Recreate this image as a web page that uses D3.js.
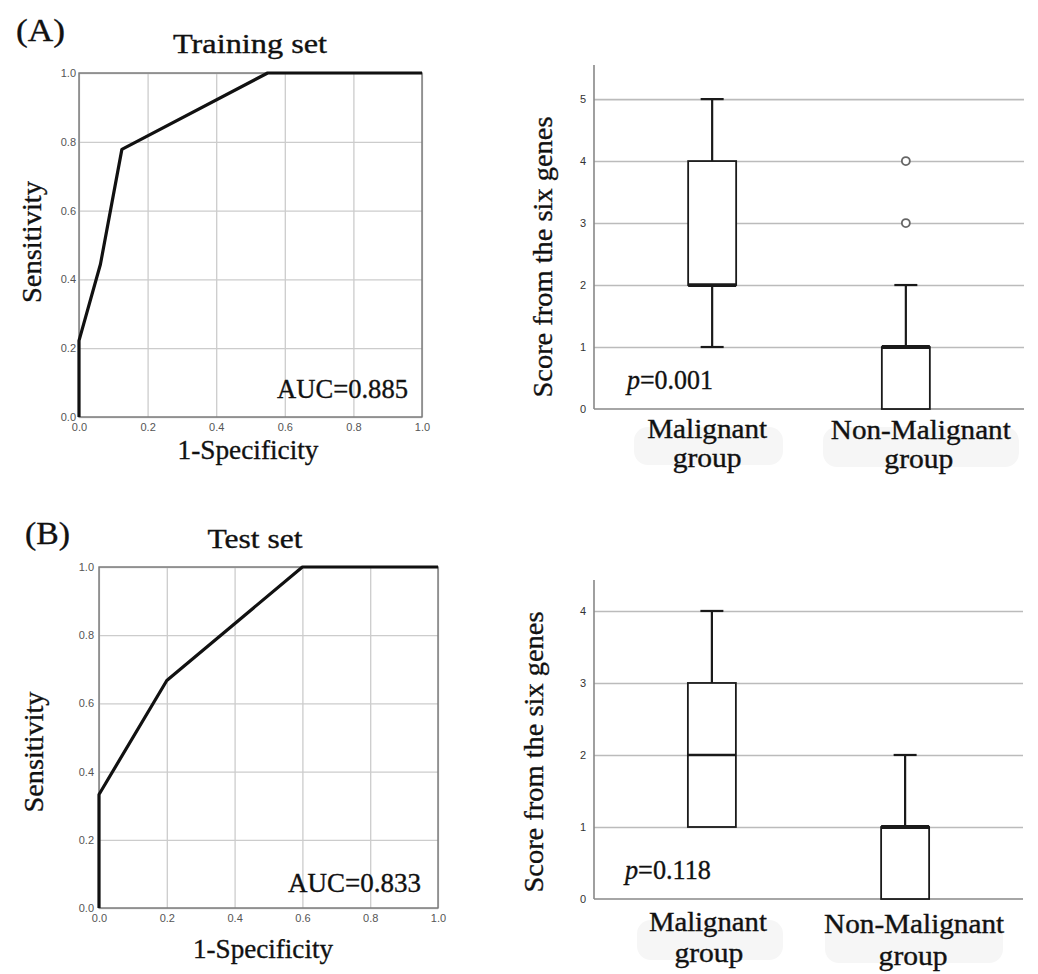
<!DOCTYPE html>
<html>
<head>
<meta charset="utf-8">
<script src="https://cdn.jsdelivr.net/npm/d3@7"></script>
<style>
  body { margin: 0; background: #fff; }
  svg { display: block; }
  .serif { font-family: "Liberation Serif", "Times New Roman", serif; fill: #111; stroke: #111; stroke-width: 0.35px; }
  .tick text { font-family: "Liberation Sans", Arial, sans-serif; }
</style>
</head>
<body>
<svg id="fig"></svg>
<script>
// ROC curves (1-specificity, sensitivity)
const trainFpr = [0, 0, 0.0625, 0.125, 0.55, 1];
const trainTpr = [0, 0.222, 0.444, 0.778, 1, 1];
const testFpr = [0, 0, 0.2, 0.6, 1];
const testTpr = [0, 0.333, 0.667, 1, 1];
const rocTicks = [0, 0.2, 0.4, 0.6, 0.8, 1.0];

// box plots
const groups = ["Malignant", "Non-Malignant"];
const trainMin = [1, 0];
const trainQ1 = [2, 0];
const trainMedian = [2, 1];
const trainQ3 = [4, 1];
const trainMax = [5, 2];
const trainOutliers = [[], [3, 4]];
const testMin = [1, 0];
const testQ1 = [1, 0];
const testMedian = [2, 1];
const testQ3 = [3, 1];
const testMax = [4, 2];
const testOutliers = [[], []];
const trainScoreTicks = [0, 1, 2, 3, 4, 5];
const testScoreTicks = [0, 1, 2, 3, 4];

const W = 1038, H = 974;
const FS = 27;
const svg = d3.select("#fig").attr("width", W).attr("height", H);

const label = (g, txt, x, y, size, len, anchor = "middle", rot = 0) => {
   const t = g.append("text")
      .attr("class", "serif")
      .attr("transform", `translate(${x},${y}) rotate(${rot})`)
      .attr("text-anchor", anchor)
      .attr("font-size", size)
      .attr("textLength", len)
      .attr("lengthAdjust", "spacingAndGlyphs");
   return t.text(txt);
};

const drawRoc = (fpr, tpr, box, aucText) => {
   const g = svg.append("g");
   const x = d3.scaleLinear().domain([0, 1]).range([box.x0, box.x1]);
   const y = d3.scaleLinear().domain([0, 1]).range([box.y1, box.y0]);

   // grid
   g.append("g")
      .attr("transform", `translate(0,${box.y1})`)
      .call(d3.axisBottom(x).tickValues(rocTicks).tickSize(-(box.y1 - box.y0)).tickFormat(""))
      .call(a => a.select(".domain").remove())
      .selectAll("line").attr("stroke", "#cccccc").attr("stroke-width", 1.3);
   g.append("g")
      .attr("transform", `translate(${box.x0},0)`)
      .call(d3.axisLeft(y).tickValues(rocTicks).tickSize(-(box.x1 - box.x0)).tickFormat(""))
      .call(a => a.select(".domain").remove())
      .selectAll("line").attr("stroke", "#cccccc").attr("stroke-width", 1.3);

   g.append("rect")
      .attr("x", box.x0).attr("y", box.y0)
      .attr("width", box.x1 - box.x0).attr("height", box.y1 - box.y0)
      .attr("fill", "none").attr("stroke", "#777").attr("stroke-width", 1.4);

   // tick labels
   const fmt = d3.format(".1f");
   g.append("g")
      .attr("transform", `translate(0,${box.y1})`)
      .call(d3.axisBottom(x).tickValues(rocTicks).tickSize(0).tickPadding(6).tickFormat(fmt))
      .call(a => a.select(".domain").remove())
      .selectAll("text").attr("font-size", 11).attr("fill", "#555");
   g.append("g")
      .attr("transform", `translate(${box.x0},0)`)
      .call(d3.axisLeft(y).tickValues(rocTicks).tickSize(0).tickPadding(box.ypad).tickFormat(fmt))
      .call(a => a.select(".domain").remove())
      .selectAll("text").attr("font-size", 11).attr("fill", "#555");

   // curve
   const pts = d3.zip(fpr, tpr);
   g.append("path")
      .datum(pts)
      .attr("d", d3.line().x(d => x(d[0])).y(d => y(d[1])))
      .attr("fill", "none")
      .attr("stroke", "#111")
      .attr("stroke-width", 3.2)
      .attr("stroke-linejoin", "round");

   label(g, aucText, box.aucX, box.aucY, FS, box.aucLen, "end");
   return g;
};

const drawBox = (stats, ticks, box, pText) => {
   const g = svg.append("g");
   const x = d3.scalePoint().domain(groups).range([box.x0, box.x1]).padding(0.61);
   const y = d3.scaleLinear().domain([0, box.ymax]).range([box.y0, box.top]);

   // grid lines
   g.append("g")
      .attr("transform", `translate(${box.x0},0)`)
      .call(d3.axisLeft(y).tickValues(ticks.filter(d => d > 0)).tickSize(-(box.x1 - box.x0)).tickFormat(""))
      .call(a => a.select(".domain").remove())
      .selectAll("line").attr("stroke", "#bbbbbb").attr("stroke-width", 1.6);

   // axes
   g.append("line")
      .attr("x1", box.x0).attr("x2", box.x0)
      .attr("y1", y(box.ymax)).attr("y2", y(0))
      .attr("stroke", "#888").attr("stroke-width", 1.6);
   g.append("line")
      .attr("x1", box.x0).attr("x2", box.x1)
      .attr("y1", y(0)).attr("y2", y(0))
      .attr("stroke", "#888").attr("stroke-width", 1.6);
   g.append("g")
      .attr("transform", `translate(${box.x0},0)`)
      .call(d3.axisLeft(y).tickValues(ticks).tickSize(0).tickPadding(8).tickFormat(d3.format("d")))
      .call(a => a.select(".domain").remove())
      .selectAll("text").attr("font-size", 11).attr("fill", "#333");

   const bw = 48, cw = 23;
   groups.forEach((grp, i) => {
      const cx = x(grp);
      const s = {min: stats.min[i], q1: stats.q1[i], med: stats.median[i], q3: stats.q3[i], max: stats.max[i]};
      const ln = (x1, y1, x2, y2, w = 2.2) => g.append("line")
         .attr("x1", x1).attr("y1", y1).attr("x2", x2).attr("y2", y2)
         .attr("stroke", "#1a1a1a").attr("stroke-width", w);
      if (s.max > s.q3) {
         ln(cx, y(s.max), cx, y(s.q3));
         ln(cx - cw / 2, y(s.max), cx + cw / 2, y(s.max));
      }
      if (s.min < s.q1) {
         ln(cx, y(s.q1), cx, y(s.min));
         ln(cx - cw / 2, y(s.min), cx + cw / 2, y(s.min));
      }
      g.append("rect")
         .attr("x", cx - bw / 2).attr("y", y(s.q3))
         .attr("width", bw).attr("height", y(s.q1) - y(s.q3))
         .attr("fill", "#fff").attr("stroke", "#1a1a1a").attr("stroke-width", 1.8);
      ln(cx - bw / 2, y(s.med), cx + bw / 2, y(s.med), box.medW[i]);
      stats.out[i].forEach(v => {
         g.append("circle")
            .attr("cx", cx).attr("cy", y(v)).attr("r", 4)
            .attr("fill", "#fff").attr("stroke", "#666").attr("stroke-width", 1.8);
      });
   });

   // category labels on faint pills
   box.cats.forEach((c, i) => {
      g.append("rect")
         .attr("x", c.px).attr("y", c.py).attr("width", c.pw).attr("height", c.ph)
         .attr("rx", 14).attr("fill", "#f6f6f6");
   });
   box.cats.forEach((c, i) => {
      const cx = x(groups[i]) + c.dx;
      label(g, groups[i], cx, c.y1, FS, c.len1);
      label(g, "group", cx + c.dx2, c.y2, FS, 69);
   });

   // p value
   const pt = g.append("text")
      .attr("class", "serif")
      .attr("x", box.px).attr("y", box.py)
      .attr("font-size", FS)
      .attr("textLength", 86)
      .attr("lengthAdjust", "spacingAndGlyphs");
   pt.append("tspan").attr("font-style", "italic").text("p");
   pt.append("tspan").text(pText);

   label(g, "Score from the six genes", box.tx, box.ty, FS, 281, "middle", -90);
   return g;
};

// ---- (A) training set ----
label(svg, "(A)", 16, 41, 31, 49, "start");
label(svg, "Training set", 250, 53, FS, 154);
drawRoc(trainFpr, trainTpr,
   {x0: 79, x1: 422, y0: 73, y1: 417, ypad: 3, aucX: 408, aucY: 398, aucLen: 131},
   "AUC=0.885");
label(svg, "Sensitivity", 41, 242, FS, 122, "middle", -90);
label(svg, "1-Specificity", 248, 459, FS, 141);

drawBox(
   {min: trainMin, q1: trainQ1, median: trainMedian, q3: trainQ3, max: trainMax, out: trainOutliers},
   trainScoreTicks,
   {x0: 594, x1: 1024, y0: 409, top: 65, ymax: 5.55, medW: [3.8, 3.8],
    px: 627, py: 389, tx: 552, ty: 257,
    cats: [
      {dx: -5, dx2: 0, y1: 438, y2: 467, len1: 120, px: 634, py: 427, pw: 149, ph: 38},
      {dx: 15, dx2: -2, y1: 439, y2: 468, len1: 180, px: 823, py: 427, pw: 196, ph: 40}
    ]},
   "=0.001");

// ---- (B) test set ----
label(svg, "(B)", 25, 544, 31, 45, "start");
label(svg, "Test set", 255, 548, FS, 95);
drawRoc(testFpr, testTpr,
   {x0: 99, x1: 438, y0: 567, y1: 908, ypad: 5, aucX: 421, aucY: 892, aucLen: 133},
   "AUC=0.833");
label(svg, "Sensitivity", 43, 752, FS, 121, "middle", -90);
label(svg, "1-Specificity", 263, 958, FS, 140);

drawBox(
   {min: testMin, q1: testQ1, median: testMedian, q3: testQ3, max: testMax, out: testOutliers},
   testScoreTicks,
   {x0: 594, x1: 1023, y0: 899, top: 580, ymax: 4.43, medW: [2.4, 3.8],
    px: 625, py: 879, tx: 543, ty: 752,
    cats: [
      {dx: -4, dx2: 1, y1: 931, y2: 962, len1: 118, px: 637, py: 920, pw: 146, ph: 40},
      {dx: 9, dx2: -1, y1: 933, y2: 965, len1: 180, px: 825, py: 920, pw: 178, ph: 43}
    ]},
   "=0.118");
</script>
</body>
</html>
